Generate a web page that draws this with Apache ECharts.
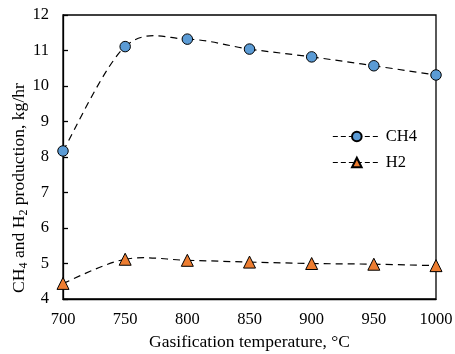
<!DOCTYPE html>
<html><head><meta charset="utf-8">
<script src="https://cdn.jsdelivr.net/npm/echarts@6/dist/echarts.min.js"></script>
<style>html,body{margin:0;padding:0;background:#fff;}#c{width:455px;height:354px;}</style>
</head><body><div id="c"></div>
<script>
const temperatures = [700, 750, 800, 850, 900, 950, 1000];
const ch4 = [8.17, 11.11, 11.32, 11.04, 10.82, 10.57, 10.31];
const h2 = [4.44, 5.12, 5.09, 5.04, 5.00, 4.98, 4.94];
const xTicks = [700, 750, 800, 850, 900, 950, 1000];
const yTicks = [4, 5, 6, 7, 8, 9, 10, 11, 12];

const font = 'Liberation Serif';

// Excel-like smoothed dashed connector built from data coordinates via the axes
function curveSeries(vals) {
  return {
    type: 'custom', silent: true, z: 1,
    data: temperatures.map((t, i) => [t, vals[i]]),
    encode: {x: 0, y: 1},
    renderItem: function (params, api) {
      if (params.dataIndex !== 0) return;
      const P = temperatures.map((t, i) => api.coord([t, vals[i]]));
      const children = [];
      for (let i = 0; i < P.length - 1; i++) {
        const p0 = P[Math.max(i - 1, 0)], p1 = P[i], p2 = P[i + 1], p3 = P[Math.min(i + 2, P.length - 1)];
        children.push({
          type: 'bezierCurve',
          shape: {
            x1: p1[0], y1: p1[1], x2: p2[0], y2: p2[1],
            cpx1: p1[0] + (p2[0] - p0[0]) / 6, cpy1: p1[1] + (p2[1] - p0[1]) / 6,
            cpx2: p2[0] - (p3[0] - p1[0]) / 6, cpy2: p2[1] - (p3[1] - p1[1]) / 6
          },
          style: {fill: null, stroke: '#000', lineWidth: 1.2, lineDash: [7, 5]}
        });
      }
      return {type: 'group', children: children};
    }
  };
}

const chart = echarts.init(document.getElementById('c'));
chart.setOption({
  animation: false,
  textStyle: {fontFamily: font},
  grid: {left: 63, right: 19, top: 15, bottom: 55, show: true, borderColor: '#000', borderWidth: 1.3,
         containLabel: false, outerBoundsMode: 'none'},
  legend: {
    orient: 'vertical', right: 33, top: 123, itemGap: 9, itemWidth: 48, itemHeight: 12,
    textStyle: {fontFamily: font, fontSize: 16.5, color: '#000'},
    lineStyle: {color: '#000', width: 1.2, type: [5, 3], opacity: 1},
    data: ['CH4', 'H2']
  },
  xAxis: {
    type: 'value', min: 700, max: 1000, interval: 50,
    axisLine: {lineStyle: {color: '#000', width: 1.3}},
    axisTick: {show: false}, splitLine: {show: false},
    axisLabel: {fontFamily: font, fontSize: 16.5, color: '#000', margin: 12, formatter: v => String(v)},
    name: 'Gasification temperature, °C', nameLocation: 'middle', nameGap: 34, nameMoveOverlap: false,
    nameTextStyle: {fontFamily: font, fontSize: 17.5, color: '#000'}
  },
  yAxis: {
    type: 'value', min: 4, max: 12, interval: 1,
    axisLine: {lineStyle: {color: '#000', width: 1.3}},
    axisTick: {show: true, inside: true, length: 5, lineStyle: {color: '#000', width: 1.3}},
    splitLine: {show: false},
    axisLabel: {fontFamily: font, fontSize: 16.5, color: '#000', margin: 14, formatter: v => String(v)},
    name: '{n|CH}{s|4}{n| and H}{s|2}{n| production, kg/hr}', nameLocation: 'middle', nameGap: 33,
    nameMoveOverlap: false,
    nameTextStyle: {
      fontFamily: font, fontSize: 17.6, color: '#000', padding: [0, 62, 0, 0],
      rich: {
        n: {fontFamily: font, fontSize: 17.6, color: '#000'},
        s: {fontFamily: font, fontSize: 12, color: '#000', padding: [10, 0, 0, 0]}
      }
    }
  },
  series: [
    curveSeries(ch4),
    curveSeries(h2),
    {
      name: 'CH4', type: 'line', z: 3,
      data: temperatures.map((t, i) => [t, ch4[i]]),
      symbol: 'circle', symbolSize: 10.5,
      itemStyle: {color: '#5b9bd5', borderColor: '#000', borderWidth: 1},
      lineStyle: {color: '#000', width: 1.2, opacity: 0}
    },
    {
      name: 'H2', type: 'line', z: 3,
      data: temperatures.map((t, i) => [t, h2[i]]),
      symbol: 'triangle', symbolSize: 12,
      itemStyle: {color: '#ed7d31', borderColor: '#000', borderWidth: 1},
      lineStyle: {color: '#000', width: 1.2, opacity: 0}
    }
  ]
});
</script></body></html>
